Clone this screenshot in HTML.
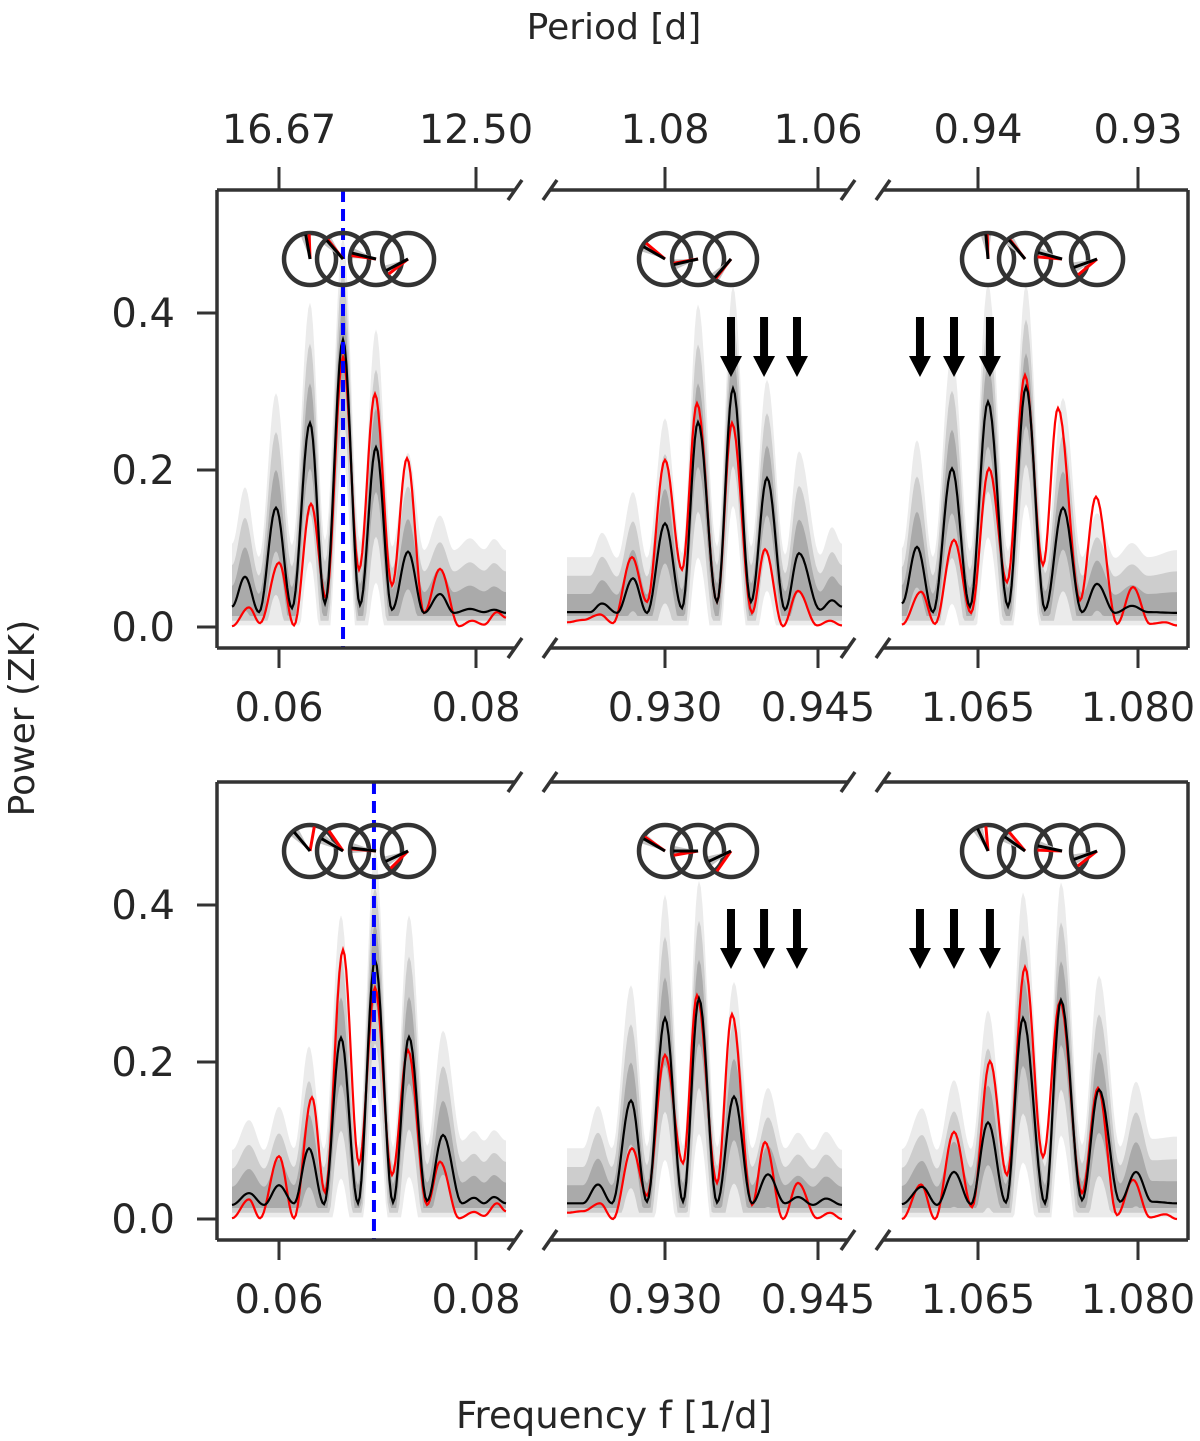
<!DOCTYPE html>
<html><head><meta charset="utf-8">
<style>
html,body{margin:0;padding:0;background:#fff;}
svg{display:block;}
text{font-family:"DejaVu Sans","Liberation Sans",sans-serif;fill:#262626;}
</style></head>
<body>
<svg id="fig" width="1200" height="1441" viewBox="0 0 1200 1441" xmlns="http://www.w3.org/2000/svg">
<text x="614" y="39" font-size="36" text-anchor="middle">Period [d]</text>
<text x="0" y="0" font-size="36" text-anchor="middle" transform="translate(34,718) rotate(-90)">Power (ZK)</text>
<text x="614" y="1428" font-size="37" text-anchor="middle">Frequency f [1/d]</text>
<g id="plots"></g>
</svg>
<script>
// ---------- DATA ----------
const yTicks = [0.0, 0.2, 0.4];
const yTickLabels = ["0.0", "0.2", "0.4"];
const p1Ticks = [0.06, 0.08];
const p1TickLabels = ["0.06", "0.08"];
const p2Ticks = [0.930, 0.945];
const p2TickLabels = ["0.930", "0.945"];
const p3Ticks = [1.065, 1.080];
const p3TickLabels = ["1.065", "1.080"];
const p1PeriodLabels = ["16.67", "12.50"];
const p2PeriodLabels = ["1.08", "1.06"];
const p3PeriodLabels = ["0.94", "0.93"];

const topP1BlackF = [0.05523,0.05655,0.05797,0.0597,0.06132,0.06315,0.06467,0.0665,0.06822,0.06985,0.07147,0.0731,0.07472,0.07635,0.07777,0.07939,0.08081,0.08183,0.08305];
const topP1BlackV = [0.026,0.064,0.019,0.152,0.024,0.26,0.03,0.366,0.028,0.229,0.022,0.096,0.018,0.042,0.018,0.023,0.019,0.022,0.018];
const topP1Spread = [0.08,0.114,0.07,0.146,0.08,0.153,0.08,0.13,0.08,0.15,0.08,0.126,0.08,0.10,0.08,0.09,0.08,0.09,0.08];
const topP1RedF = [0.05523,0.05695,0.05807,0.06,0.06152,0.06325,0.06477,0.0665,0.06812,0.06975,0.07147,0.07299,0.07472,0.07635,0.07827,0.0796,0.08081,0.08213,0.08305];
const topP1RedV = [0.001,0.025,0.005,0.082,0.002,0.157,0.037,0.344,0.073,0.297,0.053,0.215,0.018,0.074,0.001,0.008,0.003,0.019,0.012];

const topP2BlackF = [0.92039,0.92265,0.92382,0.92529,0.92686,0.92824,0.93,0.93167,0.93324,0.9351,0.93667,0.93843,0.94,0.94176,0.94314,0.9452,0.94637,0.94735];
const topP2BlackV = [0.019,0.019,0.03,0.018,0.062,0.018,0.132,0.024,0.261,0.032,0.304,0.032,0.19,0.022,0.094,0.022,0.034,0.026];
const topP2Spread = [0.07,0.07,0.09,0.07,0.11,0.07,0.134,0.07,0.15,0.07,0.13,0.07,0.125,0.07,0.13,0.07,0.093,0.08];
const topP2RedF = [0.92039,0.92196,0.92363,0.9249,0.92676,0.92824,0.93,0.93167,0.93314,0.9351,0.93657,0.93853,0.9398,0.94157,0.94304,0.9449,0.94618,0.94735];
const topP2RedV = [0.006,0.009,0.016,0.005,0.089,0.032,0.213,0.073,0.285,0.032,0.26,0.018,0.099,0.001,0.046,0.002,0.008,0.002];

const topP3BlackF = [1.05787,1.05928,1.06078,1.06256,1.06425,1.06594,1.06781,1.0695,1.07128,1.07297,1.07475,1.07616,1.07784,1.07944,1.08094,1.08366];
const topP3BlackV = [0.03,0.102,0.019,0.202,0.026,0.287,0.026,0.306,0.022,0.152,0.019,0.055,0.018,0.027,0.019,0.018];
const topP3Spread = [0.07,0.136,0.07,0.15,0.07,0.15,0.07,0.13,0.07,0.14,0.07,0.09,0.07,0.08,0.07,0.08];
const topP3RedF = [1.05787,1.05966,1.06097,1.06275,1.06434,1.06603,1.06772,1.06941,1.07109,1.0725,1.07456,1.07606,1.07803,1.07953,1.08112,1.08253,1.08366];
const topP3RedV = [0.003,0.045,0.004,0.111,0.018,0.202,0.057,0.321,0.079,0.279,0.034,0.166,0.004,0.051,0.004,0.006,0.002];

const botP1BlackF = [0.05523,0.05695,0.05848,0.06,0.06152,0.06305,0.06457,0.06629,0.06802,0.06975,0.07157,0.0732,0.07503,0.07665,0.07858,0.0798,0.08081,0.08183,0.08305];
const botP1BlackV = [0.018,0.033,0.018,0.043,0.02,0.09,0.019,0.231,0.02,0.33,0.021,0.232,0.023,0.107,0.02,0.027,0.02,0.028,0.02];
const botP1Spread = [0.07,0.093,0.07,0.10,0.07,0.13,0.07,0.156,0.07,0.14,0.07,0.155,0.07,0.133,0.08,0.085,0.08,0.085,0.08];
const botP1RedF = [0.05523,0.05695,0.05807,0.06,0.06152,0.06335,0.06467,0.0665,0.06812,0.06975,0.07147,0.0731,0.07503,0.07635,0.07827,0.0798,0.08081,0.08213,0.08305];
const botP1RedV = [0.001,0.025,0.001,0.08,0.001,0.155,0.034,0.343,0.071,0.295,0.056,0.215,0.018,0.073,0.001,0.009,0.004,0.02,0.01];

const botP2BlackF = [0.92039,0.92196,0.92343,0.9248,0.92667,0.92824,0.93,0.93176,0.93333,0.9351,0.93676,0.93853,0.9401,0.94176,0.94304,0.94451,0.94578,0.94735];
const botP2BlackV = [0.02,0.02,0.044,0.02,0.151,0.022,0.256,0.022,0.281,0.021,0.156,0.02,0.057,0.02,0.028,0.018,0.026,0.018];
const botP2Spread = [0.07,0.07,0.10,0.07,0.147,0.07,0.157,0.07,0.15,0.07,0.146,0.07,0.11,0.07,0.082,0.07,0.085,0.07];
const botP2RedF = [0.92039,0.92196,0.92363,0.9249,0.92676,0.92824,0.93,0.93176,0.93314,0.9351,0.93657,0.93853,0.9398,0.94157,0.94304,0.9449,0.94618,0.94735];
const botP2RedV = [0.008,0.01,0.02,0.0,0.09,0.03,0.209,0.071,0.285,0.046,0.261,0.018,0.098,0.0,0.046,0.001,0.008,0.0];

const botP3BlackF = [1.05787,1.05975,1.06116,1.06275,1.06434,1.06594,1.06762,1.06922,1.07128,1.07278,1.07475,1.07634,1.07831,1.07981,1.08131,1.08366];
const botP3BlackV = [0.019,0.041,0.018,0.06,0.019,0.123,0.021,0.256,0.02,0.279,0.024,0.165,0.022,0.06,0.022,0.02];
const botP3Spread = [0.07,0.10,0.07,0.117,0.07,0.143,0.07,0.16,0.07,0.15,0.07,0.145,0.07,0.115,0.08,0.085];
const botP3RedF = [1.05787,1.05966,1.06097,1.06275,1.06444,1.06612,1.06772,1.06941,1.07109,1.07269,1.07475,1.07625,1.07803,1.07953,1.08112,1.08253,1.08366];
const botP3RedV = [0.0,0.044,0.0,0.111,0.015,0.201,0.056,0.321,0.079,0.277,0.033,0.167,0.005,0.05,0.002,0.006,0.0];

const p1DialF = [0.06315,0.0665,0.06985,0.0731];
const p2DialF = [0.93,0.93324,0.93647];
const p3DialF = [1.06594,1.06941,1.07288,1.07616];
const topP1BlackAng = [100,131,166,208]; const topP1RedAng = [92,128,172,218];
const topP2BlackAng = [150,193,229];     const topP2RedAng = [140,190,232];
const topP3BlackAng = [95,130,165,200];  const topP3RedAng = [92,128,175,220];
const botP1BlackAng = [130,150,173,205]; const botP1RedAng = [80,125,175,225];
const botP2BlackAng = [150,180,205];     const botP2RedAng = [145,190,235];
const botP3BlackAng = [115,145,168,200]; const botP3RedAng = [95,130,178,218];

const p2ArrowF = [0.93647,0.93971,0.94294];
const p3ArrowF = [1.05956,1.06275,1.06612];
const topMarkerF = 0.0665;
const botMarkerF = 0.06964;

// ---------- RENDER ----------
const NS = "http://www.w3.org/2000/svg";
const root = document.getElementById('plots');
function mk(tag, attrs, parent){ const e=document.createElementNS(NS,tag); for(const k in attrs) e.setAttribute(k,attrs[k]); (parent||root).appendChild(e); return e; }

const panelsX = [
  {x0:217,x1:515,f0:0.06,px0:279,scale:9850,ticks:p1Ticks,labels:p1TickLabels,per:p1PeriodLabels,dial:p1DialF},
  {x0:550,x1:848,f0:0.930,px0:665,scale:10200,ticks:p2Ticks,labels:p2TickLabels,per:p2PeriodLabels,dial:p2DialF},
  {x0:883,x1:1188,f0:1.065,px0:978,scale:10667,ticks:p3Ticks,labels:p3TickLabels,per:p3PeriodLabels,dial:p3DialF}
];
const rows = [
  {top:190,bot:648,zero:627,name:'top',
   series:[[topP1BlackF,topP1BlackV,topP1Spread,topP1RedF,topP1RedV,topP1BlackAng,topP1RedAng],
           [topP2BlackF,topP2BlackV,topP2Spread,topP2RedF,topP2RedV,topP2BlackAng,topP2RedAng],
           [topP3BlackF,topP3BlackV,topP3Spread,topP3RedF,topP3RedV,topP3BlackAng,topP3RedAng]],
   marker:topMarkerF},
  {top:782,bot:1240,zero:1219,name:'bottom',
   series:[[botP1BlackF,botP1BlackV,botP1Spread,botP1RedF,botP1RedV,botP1BlackAng,botP1RedAng],
           [botP2BlackF,botP2BlackV,botP2Spread,botP2RedF,botP2RedV,botP2BlackAng,botP2RedAng],
           [botP3BlackF,botP3BlackV,botP3Spread,botP3RedF,botP3RedV,botP3BlackAng,botP3RedAng]],
   marker:botMarkerF}
];
const YS = 785;

function dense(F, V){
  const out=[];
  for(let i=0;i<F.length-1;i++){
    const n=10;
    for(let j=0;j<n;j++){ const t=j/n, w=(1-Math.cos(Math.PI*t))/2; out.push([F[i]+(F[i+1]-F[i])*t, V[i]+(V[i+1]-V[i])*w]); }
  }
  out.push([F[F.length-1],V[V.length-1]]);
  return out;
}

rows.forEach((row,ri)=>{
  const ys = v => row.zero - v*YS;
  panelsX.forEach((P,pi)=>{
    const xs = f => P.px0 + (f-P.f0)*P.scale;
    const g = mk('g',{});
    
    
    const cid='clip'+ri+pi;
    const cp=mk('clipPath',{id:cid},g); mk('rect',{x:P.x0,y:row.top,width:P.x1-P.x0,height:row.bot-row.top},cp);
    const pg=mk('g',{'clip-path':'url(#'+cid+')'},g);
    const [bF,bV,sp,rF,rV,bA,rA]=row.series[pi];
    const B=dense(bF,bV), S=dense(bF,sp);
    const levels=[[1.0,0.002,'#ebebeb'],[0.66,0.008,'#cdcdcd'],[0.33,0.014,'#aaaaaa']];
    levels.forEach((L,li)=>{
      const up=B.map((p,i)=>[xs(p[0]),ys(p[1]+S[i][1]*L[0])]);
      const lo=B.map((p,i)=>[xs(p[0]),ys(Math.min(p[1],Math.max(L[1],p[1]-S[i][1]*L[0]*1.15)))]).reverse();
      const d='M'+up.concat(lo).map(p=>p[0].toFixed(1)+','+p[1].toFixed(1)).join('L')+'Z';
      const band=mk('path',{d:d,fill:L[2],stroke:'none'},pg);
      
      
    });
    const R=dense(rF,rV);
    const red=mk('path',{d:'M'+R.map(p=>xs(p[0]).toFixed(1)+','+ys(p[1]).toFixed(1)).join('L'),fill:'none',stroke:'#ff0000','stroke-width':2.2},pg);
    
    
    const blk=mk('path',{d:'M'+B.map(p=>xs(p[0]).toFixed(1)+','+ys(p[1]).toFixed(1)).join('L'),fill:'none',stroke:'#000','stroke-width':2.2},pg);
    
    
    if(pi===0){
      const mx=xs(row.marker);
      const ml=mk('line',{x1:mx,x2:mx,y1:row.top,y2:row.bot,stroke:'#0000ff','stroke-width':4,'stroke-dasharray':'12,7'},g);
      
      
    }
    // dials
    const cy=row.top+69, r=26;
    P.dial.forEach((f,k)=>{
      const cx=xs(f);
      const dg=mk('g',{},g);
      
      
      const a=bA[k]*Math.PI/180, w=12*Math.PI/180;
      mk('path',{d:`M${cx},${cy}L${cx+r*Math.cos(a-w)},${cy-r*Math.sin(a-w)}L${cx+r*Math.cos(a+w)},${cy-r*Math.sin(a+w)}Z`,fill:'#c4c4c4'},dg);
      mk('circle',{cx:cx,cy:cy,r:r,fill:'none',stroke:'#333','stroke-width':4.5},dg);
      const ra=rA[k]*Math.PI/180;
      mk('line',{x1:cx,y1:cy,x2:cx+r*0.95*Math.cos(ra),y2:cy-r*0.95*Math.sin(ra),stroke:'#ff0000','stroke-width':3},dg);
      mk('line',{x1:cx,y1:cy,x2:cx+r*0.95*Math.cos(a),y2:cy-r*0.95*Math.sin(a),stroke:'#000','stroke-width':3},dg);
    });
    // arrows
    const arr = pi===1?p2ArrowF:(pi===2?p3ArrowF:[]);
    arr.forEach(f=>{
      const ax=xs(f), t0=row.top+127, tip=row.top+187;
      const ar=mk('path',{d:`M${ax-4},${t0}H${ax+4}V${tip-21}H${ax+11}L${ax},${tip}L${ax-11},${tip-21}H${ax-4}Z`,fill:'#000'},g);
      
      
    });
    // frame
    const fs={stroke:'#333','stroke-width':3.5,fill:'none'};
    mk('line',Object.assign({x1:P.x0,x2:P.x1,y1:row.top,y2:row.top},fs),g);
    mk('line',Object.assign({x1:P.x0,x2:P.x1,y1:row.bot,y2:row.bot},fs),g);
    if(pi===0) mk('line',Object.assign({x1:P.x0,x2:P.x0,y1:row.top,y2:row.bot},fs),g);
    if(pi===2) mk('line',Object.assign({x1:P.x1,x2:P.x1,y1:row.top,y2:row.bot},fs),g);
    const brk=x=>[row.top,row.bot].forEach(y=>{ const b=mk('line',Object.assign({x1:x-7,y1:y+10,x2:x+7,y2:y-10},fs),g);   });
    if(pi<2) brk(P.x1);
    if(pi>0) brk(P.x0);
    // x ticks
    P.ticks.forEach((t,k)=>{
      const tx=xs(t);
      mk('line',{x1:tx,x2:tx,y1:row.bot,y2:row.bot+20,stroke:'#333','stroke-width':3},g);
      const tl=mk('text',{x:tx,y:row.bot+73,'font-size':40,'text-anchor':'middle'},g);
      tl.textContent=P.labels[k];
      
      
      if(ri===0){
        mk('line',{x1:tx,x2:tx,y1:row.top,y2:row.top-23,stroke:'#333','stroke-width':3},g);
        const pl=mk('text',{x:tx,y:row.top-47,'font-size':40,'text-anchor':'middle'},g);
        pl.textContent=P.per[k];
        
        
      }
    });
    if(pi===0){
      yTicks.forEach((v,k)=>{
        const ty=ys(v);
        mk('line',{x1:P.x0-20,x2:P.x0,y1:ty,y2:ty,stroke:'#333','stroke-width':3},g);
        const yl=mk('text',{x:P.x0-42,y:ty+14,'font-size':40,'text-anchor':'end'},g);
        yl.textContent=yTickLabels[k];
        
        
      });
    }
  });
});
</script>
</body></html>
